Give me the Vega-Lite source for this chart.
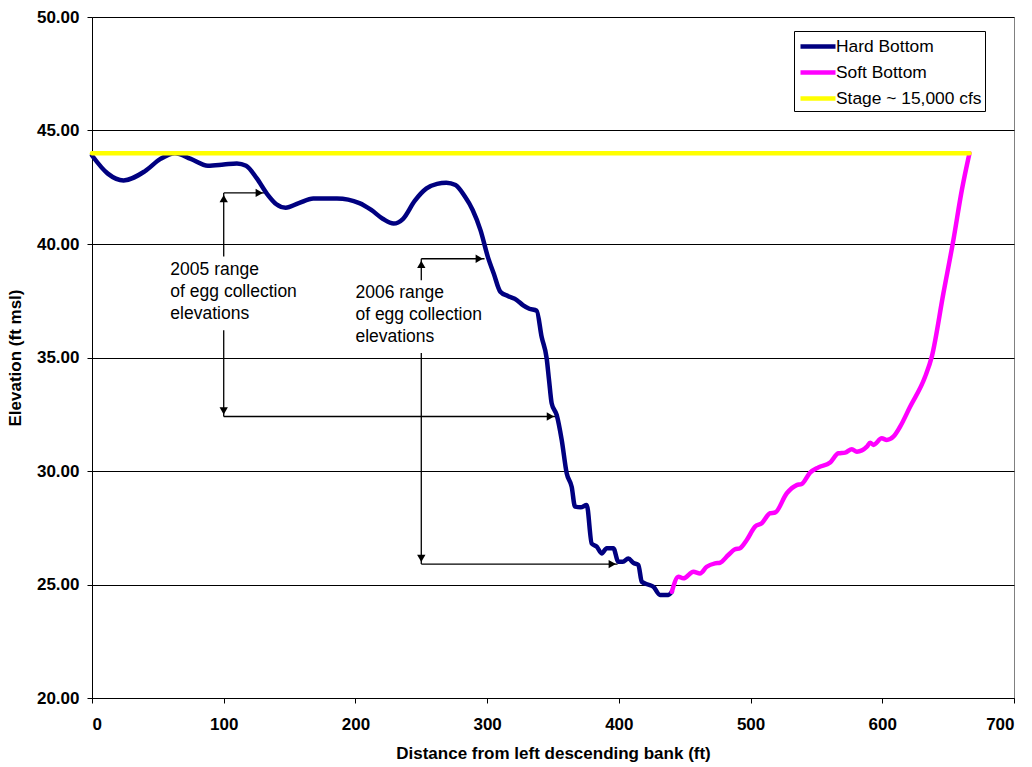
{
  "$schema": "https://vega.github.io/schema/vega-lite/v6.json",
  "width": 922,
  "height": 681,
  "autosize": {"type": "none"},
  "padding": {"left": 92, "top": 17, "right": 18, "bottom": 69},
  "background": "white",
  "config": {
    "view": {"stroke": "#808080", "strokeWidth": 1},
    "font": "Liberation Sans",
    "axis": {
      "labelFont": "Liberation Sans",
      "labelFontWeight": "bold",
      "labelFontSize": 17,
      "labelColor": "black",
      "titleFont": "Liberation Sans",
      "titleFontWeight": "bold",
      "titleFontSize": 17,
      "titleColor": "black",
      "domainColor": "black",
      "tickColor": "black",
      "tickSize": 5,
      "gridColor": "black",
      "gridWidth": 1,
      "gridOpacity": 1
    },
    "legend": {
      "orient": "none",
      "legendX": 702,
      "legendY": 14,
      "strokeColor": "black",
      "fillColor": "white",
      "padding": 3,
      "symbolType": "M-1.75,0H1.75",
      "symbolStrokeWidth": 4.5,
      "symbolSize": 400,
      "symbolOffset": 8.5,
      "labelFont": "Liberation Sans",
      "labelFontSize": 17.4,
      "labelColor": "black",
      "labelOffset": 5.5,
      "rowPadding": 4,
      "titlePadding": 0
    }
  },
  "datasets": {
    "profile": [
      {"dist": 0, "elev": 43.9, "series": "Hard Bottom"},
      {"dist": 12, "elev": 43.1, "series": "Hard Bottom"},
      {"dist": 24, "elev": 42.8, "series": "Hard Bottom"},
      {"dist": 40, "elev": 43.2, "series": "Hard Bottom"},
      {"dist": 52, "elev": 43.75, "series": "Hard Bottom"},
      {"dist": 63, "elev": 44.0, "series": "Hard Bottom"},
      {"dist": 75, "elev": 43.75, "series": "Hard Bottom"},
      {"dist": 88, "elev": 43.45, "series": "Hard Bottom"},
      {"dist": 100, "elev": 43.5, "series": "Hard Bottom"},
      {"dist": 110, "elev": 43.55, "series": "Hard Bottom"},
      {"dist": 117, "elev": 43.45, "series": "Hard Bottom"},
      {"dist": 125, "elev": 42.9, "series": "Hard Bottom"},
      {"dist": 133, "elev": 42.2, "series": "Hard Bottom"},
      {"dist": 140, "elev": 41.75, "series": "Hard Bottom"},
      {"dist": 147, "elev": 41.6, "series": "Hard Bottom"},
      {"dist": 157, "elev": 41.8, "series": "Hard Bottom"},
      {"dist": 168, "elev": 42.0, "series": "Hard Bottom"},
      {"dist": 186, "elev": 42.0, "series": "Hard Bottom"},
      {"dist": 203, "elev": 41.8, "series": "Hard Bottom"},
      {"dist": 212, "elev": 41.5, "series": "Hard Bottom"},
      {"dist": 221, "elev": 41.1, "series": "Hard Bottom"},
      {"dist": 229, "elev": 40.9, "series": "Hard Bottom"},
      {"dist": 236, "elev": 41.1, "series": "Hard Bottom"},
      {"dist": 245, "elev": 41.9, "series": "Hard Bottom"},
      {"dist": 254, "elev": 42.45, "series": "Hard Bottom"},
      {"dist": 262, "elev": 42.65, "series": "Hard Bottom"},
      {"dist": 269, "elev": 42.7, "series": "Hard Bottom"},
      {"dist": 276, "elev": 42.6, "series": "Hard Bottom"},
      {"dist": 283, "elev": 42.1, "series": "Hard Bottom"},
      {"dist": 289, "elev": 41.5, "series": "Hard Bottom"},
      {"dist": 295, "elev": 40.6, "series": "Hard Bottom"},
      {"dist": 300.7, "elev": 39.4, "series": "Hard Bottom"},
      {"dist": 305, "elev": 38.7, "series": "Hard Bottom"},
      {"dist": 310, "elev": 37.9, "series": "Hard Bottom"},
      {"dist": 316, "elev": 37.7, "series": "Hard Bottom"},
      {"dist": 322.5, "elev": 37.53, "series": "Hard Bottom"},
      {"dist": 327.4, "elev": 37.3, "series": "Hard Bottom"},
      {"dist": 332, "elev": 37.15, "series": "Hard Bottom"},
      {"dist": 337.6, "elev": 37.06, "series": "Hard Bottom"},
      {"dist": 341.4, "elev": 35.9, "series": "Hard Bottom"},
      {"dist": 345.2, "elev": 34.96, "series": "Hard Bottom"},
      {"dist": 347, "elev": 34.0, "series": "Hard Bottom"},
      {"dist": 349, "elev": 32.98, "series": "Hard Bottom"},
      {"dist": 352.8, "elev": 32.47, "series": "Hard Bottom"},
      {"dist": 356.6, "elev": 31.37, "series": "Hard Bottom"},
      {"dist": 360.4, "elev": 29.9, "series": "Hard Bottom"},
      {"dist": 364.2, "elev": 29.3, "series": "Hard Bottom"},
      {"dist": 366.7, "elev": 28.43, "series": "Hard Bottom"},
      {"dist": 371, "elev": 28.4, "series": "Hard Bottom"},
      {"dist": 375.6, "elev": 28.5, "series": "Hard Bottom"},
      {"dist": 379.4, "elev": 26.8, "series": "Hard Bottom"},
      {"dist": 383.2, "elev": 26.67, "series": "Hard Bottom"},
      {"dist": 387, "elev": 26.37, "series": "Hard Bottom"},
      {"dist": 390.8, "elev": 26.6, "series": "Hard Bottom"},
      {"dist": 395.8, "elev": 26.6, "series": "Hard Bottom"},
      {"dist": 399.6, "elev": 26.0, "series": "Hard Bottom"},
      {"dist": 403, "elev": 26.0, "series": "Hard Bottom"},
      {"dist": 407.2, "elev": 26.15, "series": "Hard Bottom"},
      {"dist": 411, "elev": 25.95, "series": "Hard Bottom"},
      {"dist": 414.8, "elev": 25.86, "series": "Hard Bottom"},
      {"dist": 417.4, "elev": 25.12, "series": "Hard Bottom"},
      {"dist": 422, "elev": 25.0, "series": "Hard Bottom"},
      {"dist": 426.2, "elev": 24.9, "series": "Hard Bottom"},
      {"dist": 431.3, "elev": 24.54, "series": "Hard Bottom"},
      {"dist": 437.6, "elev": 24.54, "series": "Hard Bottom"},
      {"dist": 440.2, "elev": 24.68, "series": "Hard Bottom"},
      {"dist": 440.2, "elev": 24.68, "series": "Soft Bottom"},
      {"dist": 445.2, "elev": 25.34, "series": "Soft Bottom"},
      {"dist": 449, "elev": 25.27, "series": "Soft Bottom"},
      {"dist": 456.6, "elev": 25.56, "series": "Soft Bottom"},
      {"dist": 461.6, "elev": 25.49, "series": "Soft Bottom"},
      {"dist": 466.7, "elev": 25.78, "series": "Soft Bottom"},
      {"dist": 473, "elev": 25.93, "series": "Soft Bottom"},
      {"dist": 476.8, "elev": 25.96, "series": "Soft Bottom"},
      {"dist": 483.1, "elev": 26.3, "series": "Soft Bottom"},
      {"dist": 488.2, "elev": 26.55, "series": "Soft Bottom"},
      {"dist": 492, "elev": 26.6, "series": "Soft Bottom"},
      {"dist": 497.1, "elev": 26.96, "series": "Soft Bottom"},
      {"dist": 503.4, "elev": 27.55, "series": "Soft Bottom"},
      {"dist": 508.5, "elev": 27.7, "series": "Soft Bottom"},
      {"dist": 514.8, "elev": 28.14, "series": "Soft Bottom"},
      {"dist": 518.6, "elev": 28.17, "series": "Soft Bottom"},
      {"dist": 527.5, "elev": 29.02, "series": "Soft Bottom"},
      {"dist": 535, "elev": 29.38, "series": "Soft Bottom"},
      {"dist": 538.8, "elev": 29.43, "series": "Soft Bottom"},
      {"dist": 545.2, "elev": 29.93, "series": "Soft Bottom"},
      {"dist": 551.5, "elev": 30.16, "series": "Soft Bottom"},
      {"dist": 560.4, "elev": 30.37, "series": "Soft Bottom"},
      {"dist": 566.7, "elev": 30.78, "series": "Soft Bottom"},
      {"dist": 571.8, "elev": 30.81, "series": "Soft Bottom"},
      {"dist": 576.9, "elev": 30.96, "series": "Soft Bottom"},
      {"dist": 580.7, "elev": 30.85, "series": "Soft Bottom"},
      {"dist": 588.3, "elev": 31.07, "series": "Soft Bottom"},
      {"dist": 590.8, "elev": 31.25, "series": "Soft Bottom"},
      {"dist": 593.3, "elev": 31.15, "series": "Soft Bottom"},
      {"dist": 599.6, "elev": 31.44, "series": "Soft Bottom"},
      {"dist": 603.4, "elev": 31.37, "series": "Soft Bottom"},
      {"dist": 608.4, "elev": 31.51, "series": "Soft Bottom"},
      {"dist": 613.5, "elev": 31.95, "series": "Soft Bottom"},
      {"dist": 621.1, "elev": 32.83, "series": "Soft Bottom"},
      {"dist": 632.5, "elev": 34.15, "series": "Soft Bottom"},
      {"dist": 637.6, "elev": 35.04, "series": "Soft Bottom"},
      {"dist": 646.4, "elev": 37.83, "series": "Soft Bottom"},
      {"dist": 654, "elev": 40.18, "series": "Soft Bottom"},
      {"dist": 660.4, "elev": 42.38, "series": "Soft Bottom"},
      {"dist": 666.2, "elev": 44.0, "series": "Soft Bottom"},
      {"dist": 0, "elev": 44.0, "series": "Stage ~ 15,000 cfs"},
      {"dist": 666.2, "elev": 44.0, "series": "Stage ~ 15,000 cfs"}
    ],
    "segments": [
      {"x1": 100, "y1": 42.25, "x2": 100, "y2": 39.45},
      {"x1": 100, "y1": 36.2, "x2": 100, "y2": 32.4},
      {"x1": 100, "y1": 42.25, "x2": 131, "y2": 42.25},
      {"x1": 100, "y1": 32.4, "x2": 352, "y2": 32.4},
      {"x1": 250, "y1": 39.35, "x2": 250, "y2": 38.4},
      {"x1": 250, "y1": 35.2, "x2": 250, "y2": 25.9},
      {"x1": 250, "y1": 39.35, "x2": 298, "y2": 39.35},
      {"x1": 250, "y1": 25.9, "x2": 399, "y2": 25.9}
    ],
    "heads": [
      {"hx": 100, "hy": 42.0, "dir": "up"},
      {"hx": 127, "hy": 42.25, "dir": "right"},
      {"hx": 100, "hy": 32.65, "dir": "down"},
      {"hx": 348, "hy": 32.4, "dir": "right"},
      {"hx": 250, "hy": 39.1, "dir": "up"},
      {"hx": 294, "hy": 39.35, "dir": "right"},
      {"hx": 250, "hy": 26.15, "dir": "down"},
      {"hx": 395, "hy": 25.9, "dir": "right"}
    ],
    "notes": [
      {"nx": 59.5, "ny": 39.25, "note": "2005 range|of egg collection|elevations"},
      {"nx": 200, "ny": 38.25, "note": "2006 range|of egg collection|elevations"}
    ]
  },
  "layer": [
    {
      "data": {"name": "segments"},
      "mark": {"type": "rule", "color": "black", "strokeWidth": 1.3},
      "encoding": {
        "x": {"field": "x1", "type": "quantitative", "scale": {"domain": [0, 700], "nice": false}},
        "y": {"field": "y1", "type": "quantitative", "scale": {"domain": [20, 50], "nice": false}},
        "x2": {"field": "x2"},
        "y2": {"field": "y2"}
      }
    },
    {
      "data": {"name": "heads"},
      "mark": {"type": "point", "filled": true, "color": "black", "size": 70, "opacity": 1},
      "encoding": {
        "x": {"field": "hx", "type": "quantitative"},
        "y": {"field": "hy", "type": "quantitative"},
        "shape": {
          "field": "dir",
          "type": "nominal",
          "scale": {"domain": ["up", "down", "right"], "range": ["triangle-up", "triangle-down", "triangle-right"]},
          "legend": null
        }
      }
    },
    {
      "data": {"name": "notes"},
      "transform": [{"calculate": "split(datum.note, '|')", "as": "lines"}],
      "mark": {"type": "text", "align": "left", "baseline": "top", "font": "Liberation Sans", "fontSize": 17.5, "lineHeight": 22, "color": "black"},
      "encoding": {
        "x": {"field": "nx", "type": "quantitative"},
        "y": {"field": "ny", "type": "quantitative"},
        "text": {"field": "lines"}
      }
    },
    {
      "data": {"name": "profile"},
      "mark": {"type": "line", "strokeWidth": 4.5, "interpolate": "monotone", "strokeCap": "round", "strokeJoin": "round"},
      "encoding": {
        "x": {
          "field": "dist",
          "type": "quantitative",
          "scale": {"domain": [0, 700], "nice": false},
          "axis": {"values": [0, 100, 200, 300, 400, 500, 600, 700], "grid": false, "labelPadding": 13, "titlePadding": 13, "title": "Distance from left descending bank (ft)"}
        },
        "y": {
          "field": "elev",
          "type": "quantitative",
          "scale": {"domain": [20, 50], "nice": false},
          "axis": {"values": [20, 25, 30, 35, 40, 45, 50], "format": ".2f", "grid": true, "labelPadding": 8, "titlePadding": 12, "title": "Elevation (ft msl)"}
        },
        "color": {
          "field": "series",
          "type": "nominal",
          "scale": {"domain": ["Hard Bottom", "Soft Bottom", "Stage ~ 15,000 cfs"], "range": ["#000080", "#FF00FF", "#FFFF00"]},
          "legend": {"title": null}
        },
        "order": {"field": "dist", "type": "quantitative"}
      }
    }
  ]
}
